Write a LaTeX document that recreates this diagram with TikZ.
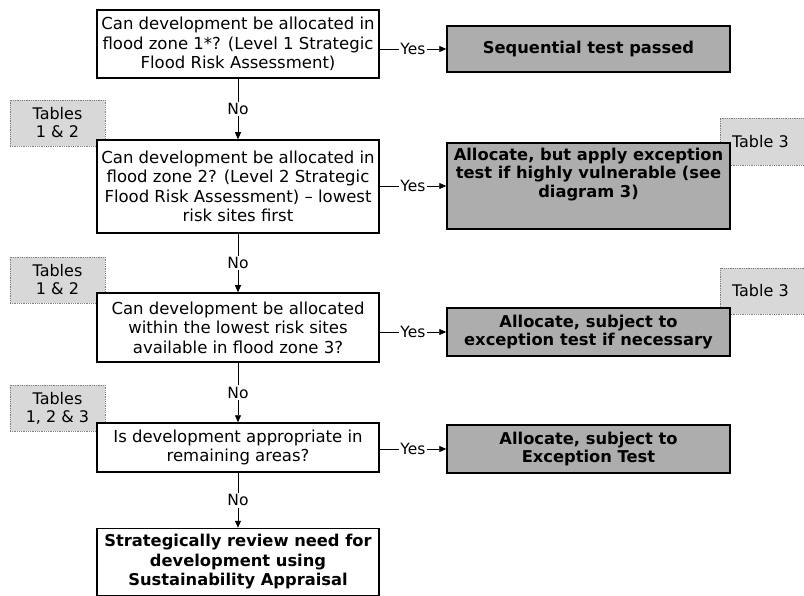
\documentclass[tikz,border=0pt]{standalone}
\usepackage{fontspec}
\setmainfont{DejaVu Sans}
\usetikzlibrary{arrows.meta}
\definecolor{rfill}{HTML}{ADADAD}
\definecolor{tfill}{HTML}{D8D8D8}
\begin{document}
\begin{tikzpicture}[x=1pt,y=-1pt,
  every node/.style={font=\fontsize{16.5}{19.5}\selectfont},
  qbox/.style={draw=black, line width=1.5pt, fill=white, align=center, inner sep=2pt, minimum width=282pt},
  abox/.style={draw=black, line width=1.5pt, fill=rfill, align=center, inner sep=2pt, minimum width=283pt, font=\fontsize{16.3}{18.5}\selectfont\bfseries},
  tbox/.style={draw=gray, densely dotted, line width=0.8pt, fill=tfill, align=center, inner sep=2pt, font=\fontsize{16}{18}\selectfont},
  conn/.style={line width=0.8pt, -{Triangle[length=7pt,width=6pt]}},
  lbl/.style={fill=white, inner sep=1.5pt, font=\fontsize{15.5}{18}\selectfont}
]
\fill[white] (0,0) rectangle (804,596);
\useasboundingbox (0,0) rectangle (804,596);

% table reference boxes (behind)
\node[tbox, minimum width=95pt, minimum height=46pt] (t1) at (57.5,123) {Tables\\1 \& 2};
\node[tbox, minimum width=95pt, minimum height=46pt] (t2) at (57.5,280) {Tables\\1 \& 2};
\node[tbox, minimum width=95pt, minimum height=46pt] (t3) at (57.5,408) {Tables\\1, 2 \& 3};
\node[tbox, minimum width=92pt, minimum height=47pt, text width=84pt, align=left] (t4) at (766,141.5) {\hspace*{8pt}Table 3};
\node[tbox, minimum width=92pt, minimum height=46pt, text width=84pt, align=left] (t5) at (766,291) {\hspace*{8pt}Table 3};

% question boxes
\node[qbox, minimum height=68pt] (b1) at (238,44) {Can development be allocated in\\flood zone 1*? (Level 1 Strategic\\Flood Risk Assessment)};
\node[qbox, minimum height=93pt] (b2) at (238,186.5) {Can development be allocated in\\flood zone 2? (Level 2 Strategic\\Flood Risk Assessment) -- lowest\\risk sites first};
\node[qbox, minimum height=69pt] (b3) at (238,327.5) {Can development be allocated\\within the lowest risk sites\\available in flood zone 3?};
\node[qbox, minimum height=49pt] (b4) at (238,447.5) {Is development appropriate in\\remaining areas?};
\node[qbox, minimum height=67pt, font=\fontsize{16.3}{19.5}\selectfont\bfseries] (b5) at (238,562) {Strategically review need for\\development using\\Sustainability Appraisal};

% answer boxes
\node[abox, minimum height=46pt] (r1) at (588.5,49) {Sequential test passed};
\node[abox, minimum height=86pt] (r2) at (588.5,186) {Allocate, but apply exception\\test if highly vulnerable (see\\diagram 3)\\[8pt]};
\node[abox, minimum height=48pt] (r3) at (588.5,332) {Allocate, subject to\\exception test if necessary};
\node[abox, minimum height=48pt] (r4) at (588.5,449) {Allocate, subject to\\Exception Test};

% connectors
\draw[conn] (b1) -- node[lbl] {No} (b2);
\draw[conn] (b2) -- node[lbl] {No} (b3);
\draw[conn] (b3) -- node[lbl] {No} (b4);
\draw[conn] (b4) -- node[lbl] {No} (b5);

\draw[conn] (b1.east |- r1.west) -- node[lbl] {Yes} (r1.west);
\draw[conn] (b2.east |- r2.west) -- node[lbl] {Yes} (r2.west);
\draw[conn] (b3.east |- r3.west) -- node[lbl] {Yes} (r3.west);
\draw[conn] (b4.east |- r4.west) -- node[lbl] {Yes} (r4.west);
\end{tikzpicture}
\end{document}
